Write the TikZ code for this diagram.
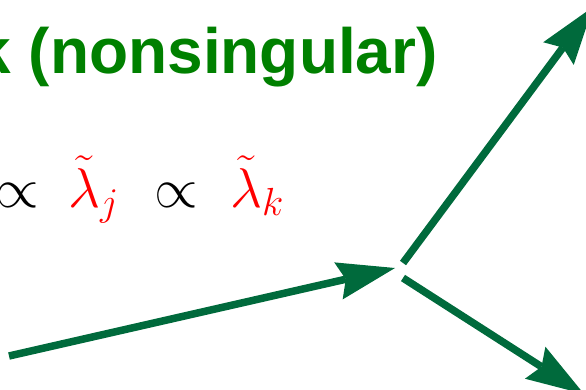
\RequirePackage{fix-cm}
\documentclass[tikz,border=0pt]{standalone}
\usepackage{fontspec}
\newfontfamily\titlefont{Liberation Sans}
\usetikzlibrary{arrows.meta}
\definecolor{titlegreen}{RGB}{0,128,0}
\definecolor{arrowgreen}{RGB}{0,106,60}
\begin{document}
\begin{tikzpicture}[x=1pt,y=-1pt,
  vec/.style={draw=arrowgreen, line width=7.5pt,
    -{Stealth[length=58pt,width=38pt,inset=7.5pt,line width=0pt,fill=arrowgreen]}},
  sym/.style={anchor=base west, inner sep=0pt, font=\fontsize{56}{60}\selectfont}]
\useasboundingbox (0,0) rectangle (586,389);
\node[anchor=base east, inner sep=0pt, text=titlegreen,
  font=\titlefont\bfseries\fontsize{64}{68}\selectfont] (title) at (438,73) {k (nonsingular)};
\node[sym] (p1) at (-5,207) {$\propto$};
\node[sym, text=red] (l1) at (68,207) {$\tilde{\lambda}_j$};
\node[sym] (p2) at (154,207) {$\propto$};
\node[sym, text=red] (l2) at (230,207) {$\tilde{\lambda}_k$};
\coordinate (a0) at (9,356);
\coordinate (a1) at (395,268);
\coordinate (b0) at (403,263);
\coordinate (b1) at (593,7);
\coordinate (c0) at (403,278);
\coordinate (c1) at (584,394);
\draw[vec] (a0) -- (a1);
\draw[vec] (b0) -- (b1);
\draw[vec] (c0) -- (c1);
\end{tikzpicture}
\end{document}
